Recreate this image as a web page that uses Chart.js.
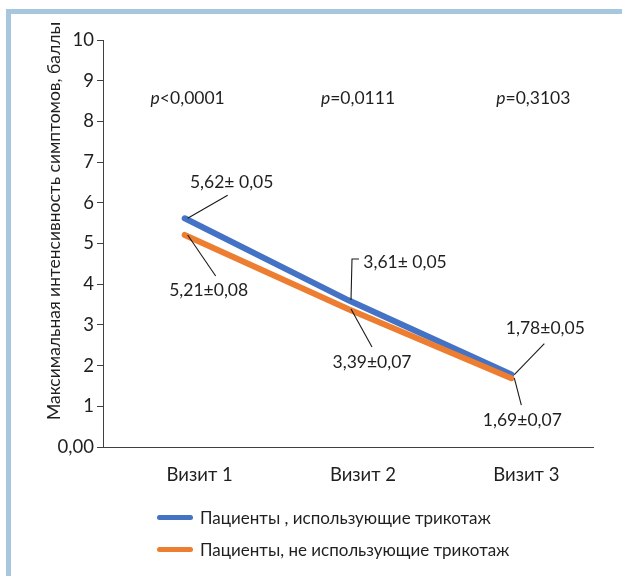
<!DOCTYPE html>
<html>
<head>
<meta charset="utf-8">
<script src="https://cdn.jsdelivr.net/npm/chart.js@4"></script>
<style>
  html, body { margin: 0; padding: 0; background: #fff; }
  #wrap { position: relative; width: 622px; height: 576px; overflow: hidden; }
  #frame { position: absolute; left: 6px; top: 9px; right: 0; bottom: 0;
           border-top: 5px solid #a7c7df; border-left: 5px solid #a7c7df; }
  canvas { position: absolute; left: 0; top: 0; }
  .legend { position: absolute; left: 157px; font-family: Lato, "Open Sans", sans-serif;
            font-size: 17px; color: #1f1f1f; display: flex; align-items: center; }
  .legend span.sw { display: inline-block; width: 36px; height: 5px; border-radius: 3px; margin-right: 7px; }
</style>
</head>
<body>
<div id="wrap">
  <div id="frame"></div>
  <canvas id="chart" width="622" height="576"></canvas>
  <div class="legend" style="top:507px"><span class="sw" style="background:#4472c4"></span><span id="leg0"></span></div>
  <div class="legend" style="top:539px"><span class="sw" style="background:#ed7d31"></span><span id="leg1"></span></div>
</div>
<script>
// chart data
const visits = ['Визит 1', 'Визит 2', 'Визит 3'];
const seriesNames = ['Пациенты , использующие трикотаж', 'Пациенты, не использующие трикотаж'];
const withKnit = [5.62, 3.61, 1.78];
const withoutKnit = [5.21, 3.39, 1.69];
const withKnitLabels = ['5,62± 0,05', '3,61± 0,05', '1,78±0,05'];
const withoutKnitLabels = ['5,21±0,08', '3,39±0,07', '1,69±0,07'];
const pPrefix = ['p', 'p', 'p'];
const pValues = ['<0,0001', '=0,0111', '=0,3103'];
const yTickLabels = ['0,00', '1', '2', '3', '4', '5', '6', '7', '8', '9', '10'];
const yTitle = 'Максимальная интенсивность симптомов, баллы';

const BLUE = '#4472c4';
const ORANGE = '#ed7d31';
const TEXT = '#1f1f1f';
const FONT = 'Lato, "Open Sans", sans-serif';

document.getElementById('leg0').textContent = seriesNames[0];
document.getElementById('leg1').textContent = seriesNames[1];

// leader line / text offsets relative to the point
const blueNotes = [
  { lx: 40, ly: -23, tx: 44, ty: -36 },
  { elbow: true, lx: 1, ly: -41, hx: 7, tx: 54, ty: -38 },
  { lx: 30, ly: -31, tx: 31, ty: -46 }
];
const orangeNotes = [
  { lx: 28, ly: 41, tx: 21, ty: 55 },
  { lx: 21, ly: 38, tx: 21, ty: 53 },
  { lx: 7, ly: 27, tx: 8, ty: 42 }
];
const pOffsets = [3, 10, 22];

const notesPlugin = {
  id: 'notes',
  afterDatasetsDraw(chart) {
    const ctx = chart.ctx;
    const xs = chart.scales.x, ys = chart.scales.y;
    ctx.save();
    ctx.strokeStyle = '#1a1a1a';
    ctx.lineWidth = 1.1;
    ctx.fillStyle = TEXT;
    ctx.font = '17.5px ' + FONT;
    ctx.textAlign = 'center';
    ctx.textBaseline = 'middle';
    const drawNote = (vals, labels, notes) => {
      vals.forEach((v, i) => {
        const px = xs.getPixelForValue(i) + 3;
        const py = ys.getPixelForValue(v);
        const n = notes[i];
        ctx.beginPath();
        ctx.moveTo(px, py);
        ctx.lineTo(px + n.lx, py + n.ly);
        if (n.elbow) ctx.lineTo(px + n.lx + n.hx, py + n.ly);
        ctx.stroke();
        ctx.fillText(labels[i], px + n.tx, py + n.ty);
      });
    };
    drawNote(withKnit, withKnitLabels, blueNotes);
    drawNote(withoutKnit, withoutKnitLabels, orangeNotes);

    // p values
    const py = ys.getPixelForValue(8.57);
    pValues.forEach((t, i) => {
      const cx = xs.getPixelForValue(i) + pOffsets[i];
      ctx.font = 'italic 17.5px ' + FONT;
      const w1 = ctx.measureText(pPrefix[i]).width;
      ctx.font = '17.5px ' + FONT;
      const w2 = ctx.measureText(t).width;
      const x0 = cx - (w1 + w2) / 2;
      ctx.textAlign = 'left';
      ctx.font = 'italic 17.5px ' + FONT;
      ctx.fillText(pPrefix[i], x0, py);
      ctx.font = '17.5px ' + FONT;
      ctx.fillText(t, x0 + w1, py);
    });

    // y axis title
    ctx.translate(54, 221);
    ctx.rotate(-Math.PI / 2);
    ctx.textAlign = 'center';
    ctx.font = '17.5px ' + FONT;
    ctx.fillText(yTitle, 0, 0);
    ctx.restore();
  }
};

new Chart(document.getElementById('chart'), {
  type: 'line',
  data: {
    labels: visits,
    datasets: [
      {
        label: seriesNames[0],
        data: withKnit,
        borderColor: BLUE,
        backgroundColor: BLUE,
        borderWidth: 6,
        borderCapStyle: 'round',
        pointRadius: 0,
        order: 1
      },
      {
        label: seriesNames[1],
        data: withoutKnit,
        borderColor: ORANGE,
        backgroundColor: ORANGE,
        borderWidth: 6,
        borderCapStyle: 'round',
        pointRadius: 0,
        order: 0
      }
    ]
  },
  options: {
    responsive: false,
    animation: false,
    layout: { padding: { top: 40, right: 29, left: 0, bottom: 0 } },
    plugins: { legend: { display: false }, tooltip: { enabled: false } },
    scales: {
      x: {
        offset: true,
        grid: { display: false },
        border: { display: true, color: '#404040', width: 1 },
        ticks: { color: TEXT, font: { family: FONT, size: 18.5 }, padding: 9, labelOffset: 15 },
        afterFit(scale) { scale.height = 129; }
      },
      y: {
        min: 0,
        max: 10,
        ticks: {
          stepSize: 1,
          color: TEXT,
          font: { family: FONT, size: 18.5 },
          padding: 3,
          callback: (v, i) => yTickLabels[i]
        },
        grid: { drawOnChartArea: false, drawTicks: true, tickLength: 6, color: '#404040' },
        border: { display: true, color: '#404040', width: 1 },
        afterFit(scale) { scale.width = 103; }
      }
    }
  },
  plugins: [notesPlugin]
});
</script>
</body>
</html>
